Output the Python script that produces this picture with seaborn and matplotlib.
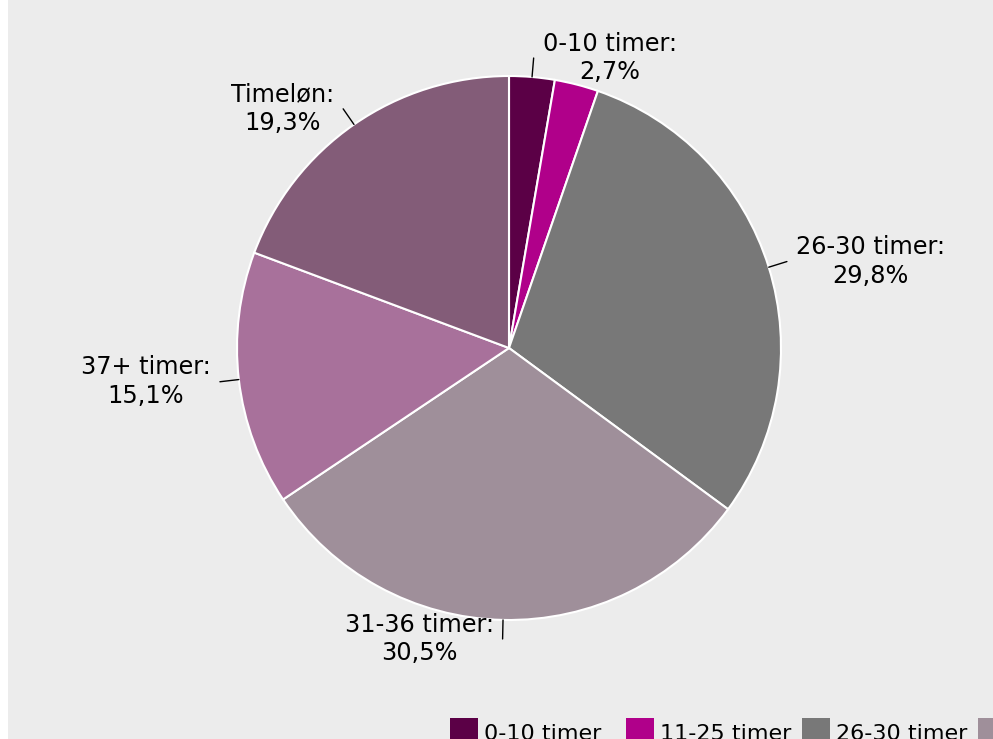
import matplotlib.pyplot as plt
import seaborn as sns
import numpy as np
from matplotlib.patches import Patch, Rectangle

# Data
categories = ["0-10 timer", "11-25 timer", "26-30 timer", "31-36 timer", "37+ timer", "Timeløn"]
shares = [2.7, 2.6, 29.8, 30.5, 15.1, 19.3]
show_label = [True, False, True, True, True, True]
colors = ["#5b0046", "#b0008a", "#787878", "#9f8f9a", "#a8719b", "#835c78"]

sns.set_theme(style="white")
plt.rcParams['font.family'] = ['DejaVu Sans']

fig = plt.figure(figsize=(9.93, 7.39), dpi=100)
fig.patch.set_facecolor("white")
fig.add_artist(Rectangle((8 / 993, 0), 1, 1, transform=fig.transFigure,
                         facecolor="#ececec", edgecolor="none", zorder=0))

W, H = 993, 739
cx, cy, R = 509, 348, 272
ax = fig.add_axes([(cx - R) / W, (H - cy - R) / H, 2 * R / W, 2 * R / H])

wedges, _ = ax.pie(shares, colors=colors, startangle=90, counterclock=False,
                   radius=1.0, wedgeprops=dict(edgecolor="white", linewidth=1.5))
ax.set_xlim(-1, 1)
ax.set_ylim(-1, 1)
ax.axis("off")

total = sum(shares)
cum = 0
for cat, val, show in zip(categories, shares, show_label):
    mid = (cum + val / 2) / total * 2 * np.pi
    cum += val
    if not show:
        continue
    sx, sy = np.sin(mid), np.cos(mid)
    x0, y0 = sx * 1.0, sy * 1.0
    x1, y1 = sx * 1.07, sy * 1.07
    ax.plot([x0, x1], [y0, y1], color="black", lw=1.0, clip_on=False)
    right = sx >= 0
    txt = f"{cat}:\n{val:.1f}%".replace(".", ",")
    ax.annotate(txt, (x1, y1), xytext=(6.5 if right else -6.5, 0), textcoords="offset points",
                ha="left" if right else "right", va="center", multialignment="center",
                fontsize=17.3, color="black", annotation_clip=False, linespacing=1.25)

# legend: fixed-width items in one row (runs off the bottom/right edge like the original)
item_w = 176
for i, (cat, c) in enumerate(zip(categories, colors)):
    fig.legend([Patch(facecolor=c, edgecolor="none")], [cat], loc="upper left",
               bbox_to_anchor=((450 + i * item_w) / W, 1 - 718 / H),
               bbox_transform=fig.transFigure, frameon=False, fontsize=16,
               handlelength=1.25, handleheight=1.6, handletextpad=0.3,
               borderpad=0, borderaxespad=0, labelcolor="black")

fig.savefig("out.png", dpi=100, facecolor=fig.get_facecolor())
